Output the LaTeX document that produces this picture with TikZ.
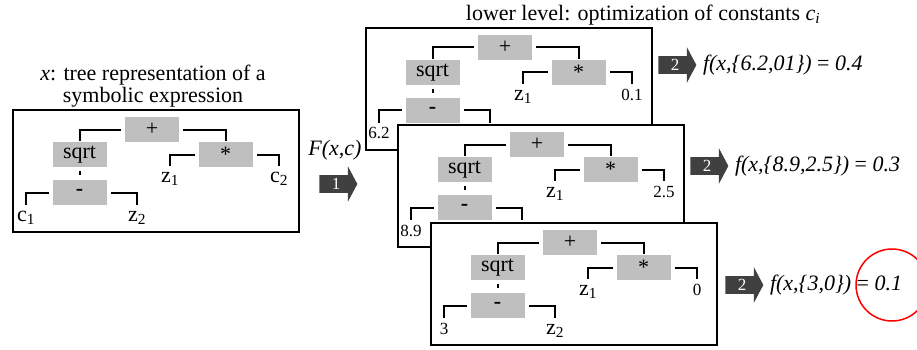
\documentclass[tikz,border=0pt]{standalone}
\usepackage{fontspec}
\setmainfont{Liberation Serif}
\usetikzlibrary{shapes.arrows}
\definecolor{opgray}{RGB}{191,191,191}
\definecolor{arrowgray}{RGB}{64,64,64}

\begin{document}
\begin{tikzpicture}[x=1pt,y=-1pt,line width=2pt,
		font=\fontsize{22}{22}\selectfont,
		op/.style={fill=opgray,minimum width=54pt,minimum height=25pt,inner sep=0pt},
		leaf/.style={inner sep=0pt,text height=15pt,anchor=base},
		frame/.style={draw,fill=white,line width=2pt,minimum width=286pt,minimum height=122pt,inner sep=0pt,anchor=north west},
		stage/.style={single arrow,fill=arrowgray,text=white,font=\fontsize{17}{17}\selectfont,inner sep=1pt,
				minimum height=38pt,minimum width=36pt,single arrow head extend=8pt,single arrow tip angle=124}]
	\useasboundingbox (0,0) rectangle (917,350);
	\foreach \bx/\by/\ca/\cb/\n in {12/109/{c\textsubscript{1}}/{c\textsubscript{2}}/0,
			365/27/{\fontsize{17}{17}\selectfont 6.2}/{\fontsize{17}{17}\selectfont 0.1}/1,
			397/124/{\fontsize{17}{17}\selectfont 8.9}/{\fontsize{17}{17}\selectfont 2.5}/2,
			430/222/{\fontsize{17}{17}\selectfont 3}/{\fontsize{17}{17}\selectfont 0}/3} {
			\begin{scope}[shift={(\bx,\by)}]
				\node[frame] (box\n) at (0,0) {};
				\node[op] (plus\n) at (140,20.5) {+};
				\node[op] (sqrt\n) at (67.5,45.5) {sqrt};
				\node[op] (times\n) at (213.5,45.5) {*};
				\node[op] (minus\n) at (67.5,83.5) {\textbf{-}};
				\node[leaf] (za\n) at (158,73) {z\textsubscript{1}};
				\node[leaf] (cb\n) at (267,73) {\cb};
				\node[leaf] (ca\n) at (14,112) {\ca};
				\node[leaf] (zb\n) at (125,112) {z\textsubscript{2}};
				\draw[shorten <=3pt] (plus\n.west) -| (sqrt\n.north);
				\draw[shorten <=3pt] (plus\n.east) -| (times\n.north);
				\draw[shorten <=3pt] (times\n.west) -| (za\n.north);
				\draw[shorten <=3pt] (times\n.east) -| (cb\n.north);
				\draw[shorten <=3pt,shorten >=4pt] (sqrt\n.south) -- (minus\n.north);
				\draw[shorten <=3pt] (minus\n.west) -| (ca\n.north);
				\draw[shorten <=3pt] (minus\n.east) -| (zb\n.north);
			\end{scope}
		}
	\node[align=center] (xtitle) at (153,86) {\textit{x}: tree representation of a\\symbolic expression};
	\node (ltitle) at (643,15) {lower level: optimization of constants \textit{c\textsubscript{i}}};
	\node (fxc) at (335,150) {\textit{F(x,c)}};
	\node[stage] (step1) at (336,184) {1};
	\foreach \ay/\ax/\res/\n in {65/675/{\textit{f(x,\{6.2,01\})} = \textit{0.4}}/1,
			166/707/{\textit{f(x,\{8.9,2.5\})} = \textit{0.3}}/2,
			285/742/{\textit{f(x,\{3,0\})} = \textit{0.1}}/3} {
			\node[stage] (eval\n) at (\ax,\ay) {2};
			\node[anchor=west,inner sep=0pt] (res\n) at (\ax+27,\ay) {\res};
		}
	\node[draw=red,circle,line width=1.5pt,minimum size=72pt] (best) at (892,285) {};
\end{tikzpicture}
\end{document}
